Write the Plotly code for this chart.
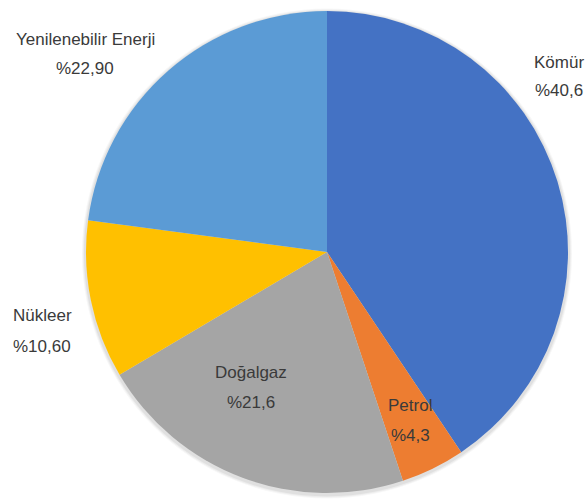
import plotly.graph_objects as go

W, H = 588, 499

# Energy mix by source (percent shares)
sources = ["Kömür", "Petrol", "Doğalgaz", "Nükleer", "Yenilenebilir Enerji"]
shares = [40.6, 4.3, 21.6, 10.6, 22.9]
share_decimals = [1, 1, 1, 2, 2]
colors = ["#4472C4", "#ED7D31", "#A5A5A5", "#FFC000", "#5B9BD5"]

# label anchor points in pixels: (x, y of name line, y of value line)
label_px = [
    (559, 62, 91),
    (410, 405, 435),
    (251, 372, 402),
    (42, 315, 346),
    (85, 40, 68),
]

TEXT_COLOR = "#3a3a3a"
FONT = "Liberation Sans, Arial, sans-serif"


def pct_text(v, d):
    return "%" + f"{v:.{d}f}".replace(".", ",")


def clamp(v):
    return min(1.0, max(0.0, v))


def domain(cx, cy, r):
    return dict(x=[clamp((cx - r) / W), clamp((cx + r) / W)],
                y=[clamp(1 - (cy + r) / H), clamp(1 - (cy - r) / H)])


cx, cy, r = 327, 252, 241

fig = go.Figure()

# soft drop shadow under the disc
for k, a in [(4, 0.03), (3, 0.04), (2, 0.05)]:
    fig.add_trace(go.Pie(
        values=[1], labels=["shadow"], marker=dict(colors=[f"rgba(0,0,0,{a})"]),
        domain=domain(cx, cy + 1.5, r + k), textinfo="none", hoverinfo="skip",
        sort=False, showlegend=False,
    ))

fig.add_trace(go.Pie(
    labels=sources,
    values=shares,
    marker=dict(colors=colors, line=dict(width=0)),
    sort=False,
    direction="clockwise",
    rotation=0,
    textinfo="none",
    hovertemplate="%{label}: %{value}%<extra></extra>",
    domain=domain(cx, cy, r),
    showlegend=False,
))

annotations = []
for name, v, d, (x, y1, y2) in zip(sources, shares, share_decimals, label_px):
    for txt, y in ((name, y1), (pct_text(v, d), y2)):
        annotations.append(dict(
            x=x / W, y=1 - y / H, xref="paper", yref="paper",
            text=txt, showarrow=False, xanchor="center", yanchor="middle",
            font=dict(family=FONT, size=17, color=TEXT_COLOR),
        ))

fig.update_layout(
    width=W, height=H,
    margin=dict(l=0, r=0, t=0, b=0),
    paper_bgcolor="white",
    plot_bgcolor="white",
    showlegend=False,
    annotations=annotations,
)

fig.write_html("out.html")
